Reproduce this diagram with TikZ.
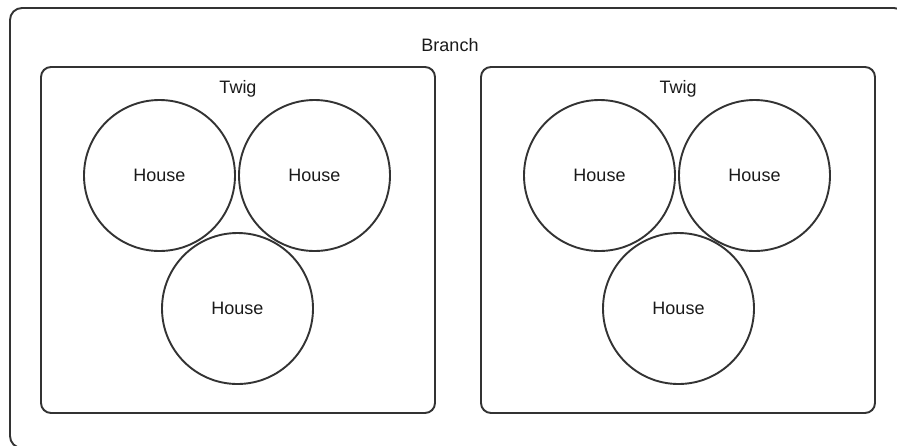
\documentclass[tikz,border=0pt]{standalone}
\usepackage{fontspec}
\setmainfont{Liberation Sans}
\usetikzlibrary{positioning}
\definecolor{linegray}{HTML}{333333}
\definecolor{textgray}{HTML}{1a1a1a}
\begin{document}
\begin{tikzpicture}[x=1pt,y=-1pt,
                    every node/.style={text=textgray,font=\fontsize{18}{21}\selectfont},
                    house node/.style={circle,draw=linegray,line width=1.9pt,minimum size=151pt,inner sep=0pt},
                    twig box/.style={draw=linegray,line width=1.9pt,rounded corners=10pt,minimum width=394pt,minimum height=346pt,inner sep=0pt},
                    branch box/.style={draw=linegray,line width=1.9pt,rounded corners=12pt,minimum width=896pt,minimum height=440pt,inner sep=0pt}]

          \useasboundingbox (0,0) rectangle (897,445);
          \clip (0,0) rectangle (897,445);

          \node[branch box] (branch) at (458,228) {};
          \node[below=38pt of branch.north, anchor=center, xshift=-8pt] (branchlabel) {Branch};

          \foreach \place/\name in {{(238,240)/twigL}, {(678,240)/twigR}}
            \node[twig box] (\name) at \place {};

          % Twig labels
          \foreach \name in {twigL, twigR}
            \node[below=23pt of \name.north, anchor=center] (\name label) {Twig};

          \foreach \place/\name in {{(159.5,175.5)/h1}, {(314.5,175.5)/h2}, {(237.5,308.5)/h3}, {(599.5,175.5)/h4}, {(754.5,175.5)/h5}, {(678.5,308.5)/h6}}
            \node[house node] (\name) at \place {House};
        \end{tikzpicture}
\end{document}
